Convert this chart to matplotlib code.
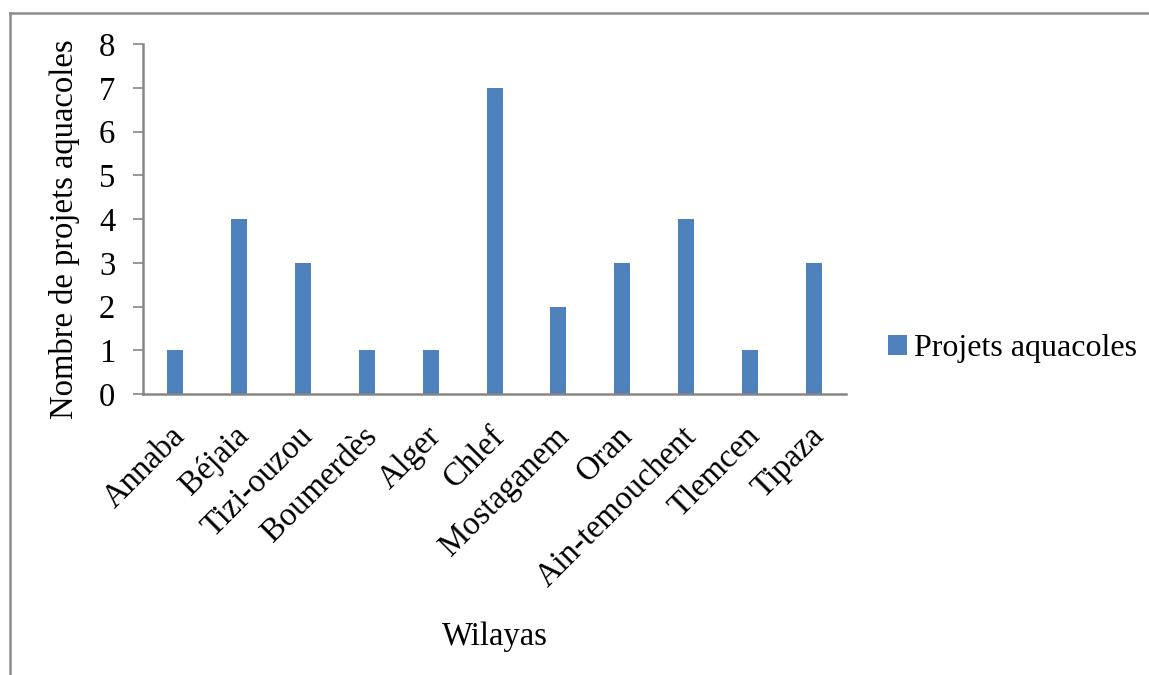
import matplotlib.pyplot as plt
from matplotlib.lines import Line2D
from matplotlib.transforms import ScaledTranslation

wilayas = ["Annaba", "Béjaia", "Tizi-ouzou", "Boumerdès", "Alger", "Chlef",
           "Mostaganem", "Oran", "Ain-temouchent", "Tlemcen", "Tipaza"]
projets = [1, 4, 3, 1, 1, 7, 2, 3, 4, 1, 3]

bar_color = "#4F81BD"
axis_color = "#868686"
fs = 23.5

plt.rcParams["font.family"] = ["Liberation Serif", "DejaVu Serif"]

fig = plt.figure(figsize=(11.49, 6.75), dpi=100)
ax = fig.add_axes([0.1245, 0.4163, 0.6118, 0.5185])

x = range(len(wilayas))
ax.bar(x, projets, width=0.25, color=bar_color, label="Projets aquacoles")

ax.set_xlim(-0.5, len(wilayas) - 0.5)
ax.set_ylim(0, 8)
ax.set_yticks(range(9))
ax.tick_params(axis="y", labelsize=fs, length=7, width=1.2, color=axis_color, pad=13)
ax.set_xticks(list(x))
ax.set_xticklabels(wilayas, rotation=45, ha="right", va="center",
                   rotation_mode="anchor", fontsize=fs)
ax.tick_params(axis="x", length=0, pad=27)
shift = ScaledTranslation(4 / 72, 0, fig.dpi_scale_trans)
for lbl in ax.get_xticklabels():
    lbl.set_transform(lbl.get_transform() + shift)

for side in ("top", "right"):
    ax.spines[side].set_visible(False)
for side in ("left", "bottom"):
    ax.spines[side].set_color(axis_color)
    ax.spines[side].set_linewidth(1.8)

ax.set_ylabel("Nombre de projets aquacoles", fontsize=fs)
ax.yaxis.set_label_coords(-0.089, 0.47)
fig.text(0.4304, 0.057, "Wilayas", fontsize=fs, ha="center", va="center")

fig.legend(loc="center left", bbox_to_anchor=(0.748, 0.483), frameon=False,
           fontsize=23, handlelength=0.6, handleheight=0.6, handletextpad=0.2)

# chart area border (left and top edges only)
fig.add_artist(Line2D([0.0083, 0.0083], [0.0, 0.981], color="#8c8c8c", lw=1.8,
                      transform=fig.transFigure))
fig.add_artist(Line2D([0.0083, 1.0], [0.981, 0.981], color="#8c8c8c", lw=1.8,
                      transform=fig.transFigure))

fig.savefig("out.png", dpi=100, facecolor="white")
